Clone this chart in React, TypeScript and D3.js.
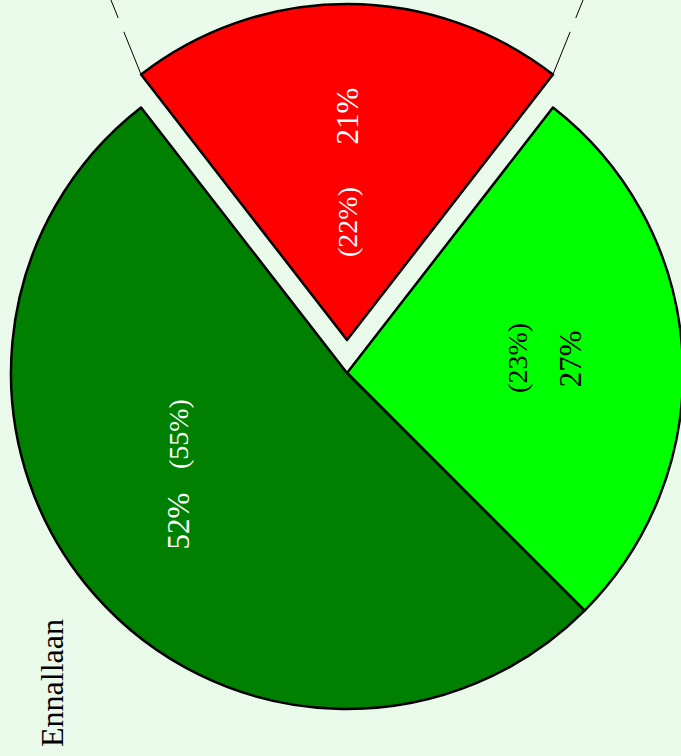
import React from 'react';
import * as d3 from 'd3';

// categories and values
const categories = ['red', 'lime', 'darkgreen'];
const shares = [21, 27, 52]; // main percentage
const previousShares = [22, 23, 55]; // value in parentheses
const sliceColors = ['#ff0000', '#00ff00', '#008000'];
const labelColors = ['#ffffff', '#000000', '#ffffff'];
const titleText = 'Ennallaan';

const W = 681;
const H = 756;

const App: React.FC = () => {
  const cx = 347;
  const cy = 373;
  const radius = 336;
  const explode = 33; // only the first slice is pulled out
  const labelRadius = 224;
  const font = '"Liberation Serif", "Times New Roman", serif';

  // shift of the parenthesised label from the main one (picture frame)
  const secondaryShift: [number, number][] = [
    [0, 106],
    [-53, -1],
    [0, -87],
  ];

  const start = -Math.PI * (shares[0] / 100);
  const pie = d3
    .pie<number>()
    .sort(null)
    .value(d => d)
    .startAngle(start)
    .endAngle(start + 2 * Math.PI);
  const arcs = pie(shares);

  const arc = d3.arc<d3.PieArcDatum<number>>().innerRadius(0).outerRadius(radius);

  const offsetOf = (i: number) => {
    if (i !== 0) return [0, 0];
    const a = (arcs[i].startAngle + arcs[i].endAngle) / 2;
    return [Math.sin(a) * explode, -Math.cos(a) * explode];
  };

  // dashed connectors from the exploded slice's outer corners
  const connAngle = (22 * Math.PI) / 180;
  const connLen = 120;
  const [ox, oy] = offsetOf(0);
  const corners = [arcs[0].startAngle, arcs[0].endAngle].map((a, k) => {
    const x0 = cx + ox + Math.sin(a) * radius;
    const y0 = cy + oy - Math.cos(a) * radius;
    const sgn = k === 0 ? -1 : 1;
    return {
      x1: x0,
      y1: y0,
      x2: x0 + sgn * Math.sin(connAngle) * connLen,
      y2: y0 - Math.cos(connAngle) * connLen,
    };
  });

  return (
    <svg
      width={W}
      height={H}
      style={{ position: 'absolute', left: 0, top: 0, display: 'block' }}
    >
      <rect x={0} y={0} width={W} height={H} fill="#eafaea" />

      {corners.map((c, i) => (
        <line
          key={'c' + i}
          x1={c.x1}
          y1={c.y1}
          x2={c.x2}
          y2={c.y2}
          stroke="#000"
          strokeWidth={1}
          strokeDasharray="46,15"
        />
      ))}

      {arcs.map((d, i) => {
        const [dx, dy] = offsetOf(i);
        return (
          <path
            key={categories[i]}
            d={arc(d) ?? ''}
            transform={`translate(${cx + dx},${cy + dy})`}
            fill={sliceColors[i]}
            stroke="#000"
            strokeWidth={2.5}
            strokeLinejoin="round"
          />
        );
      })}

      {arcs.map((d, i) => {
        const [dx, dy] = offsetOf(i);
        const a = (d.startAngle + d.endAngle) / 2;
        const px = cx + dx + Math.sin(a) * labelRadius;
        const py = cy + dy - Math.cos(a) * labelRadius;
        const [sx, sy] = secondaryShift[i];
        return (
          <g key={'l' + i} fill={labelColors[i]} fontFamily={font}>
            <text
              transform={`translate(${px},${py}) rotate(-90)`}
              textAnchor="middle"
              dominantBaseline="central"
              fontSize={31}
            >
              {`${shares[i]}%`}
            </text>
            <text
              transform={`translate(${px + sx},${py + sy}) rotate(-90)`}
              textAnchor="middle"
              dominantBaseline="central"
              fontSize={28}
            >
              {`(${previousShares[i]}%)`}
            </text>
          </g>
        );
      })}

      <text
        transform="translate(63,747) rotate(-90)"
        fontFamily={font}
        fontSize={32}
        fill="#000"
      >
        {titleText}
      </text>
    </svg>
  );
};

export default App;
